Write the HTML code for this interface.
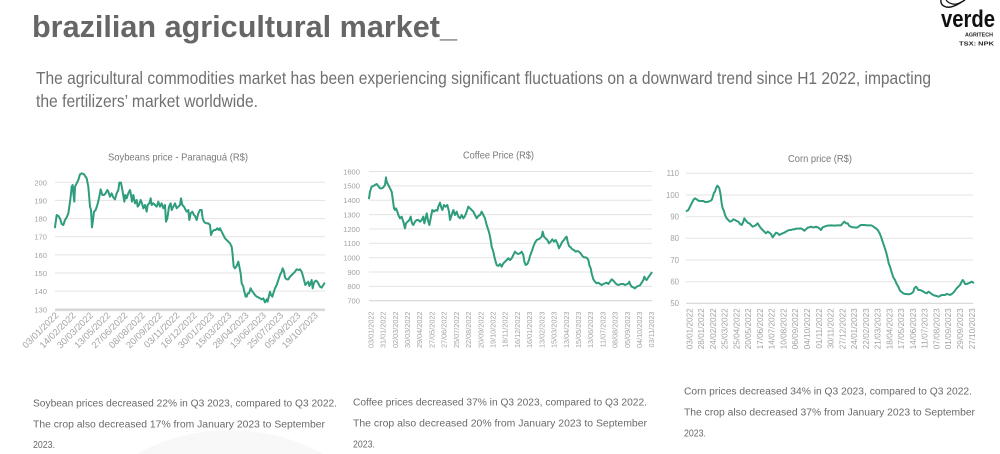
<!DOCTYPE html>
<html><head><meta charset="utf-8"><style>
html,body{margin:0;padding:0;background:#fff;width:1000px;height:454px;overflow:hidden}
svg{display:block}
text{font-family:"Liberation Sans",sans-serif}
.tk{fill:#a3a3a3;font-size:7.6px}
.g{stroke:#e3e3e3;stroke-width:1}
.ln{fill:none;stroke:#2f9d7d;stroke-width:6;stroke-linejoin:round;stroke-linecap:round}
.ct{fill:#7a7a7a;font-size:10.5px}
.bt{fill:#6a6a6a;font-size:10px}
</style></head><body>
<svg width="1000" height="454" viewBox="0 0 1000 454" xmlns="http://www.w3.org/2000/svg">
<rect width="1000" height="454" fill="#fff"/>
<path d="M136.3,454 A195,195 0 0 1 323.7,454 Z" fill="#f8f8f8"/>

<!-- Title -->
<text x="32" y="37" font-size="31" font-weight="bold" fill="#666" textLength="425" lengthAdjust="spacingAndGlyphs">brazilian agricultural market_</text>
<text x="36" y="84" font-size="17.5" fill="#707070" textLength="895" lengthAdjust="spacingAndGlyphs">The agricultural commodities market has been experiencing significant fluctuations on a downward trend since H1 2022, impacting</text>
<text x="36" y="107" font-size="17.5" fill="#707070" textLength="222" lengthAdjust="spacingAndGlyphs">the fertilizers’ market worldwide.</text>

<!-- Logo -->
<path d="M941,0 C940,6 947,9 954,6 C959,4 963,1 965,0" fill="none" stroke="#111" stroke-width="1.4"/>
<path d="M946,0 C949,4 956,6 961,2" fill="none" stroke="#111" stroke-width="1.2"/>
<text x="941" y="27" font-size="24" font-weight="bold" fill="#111" textLength="54" lengthAdjust="spacingAndGlyphs">verde</text>
<text x="965" y="36.5" font-size="5.5" font-weight="bold" fill="#222" textLength="28" lengthAdjust="spacingAndGlyphs">AGRITECH</text>
<text x="959" y="45.5" font-size="5.8" font-weight="bold" fill="#222" textLength="35" lengthAdjust="spacingAndGlyphs">TSX: NPK</text>

<!-- ============ Soybeans ============ -->
<text class="ct" x="108" y="160.5" textLength="140" lengthAdjust="spacingAndGlyphs">Soybeans price - Paranaguá (R$)</text>
<g class="g">
<line x1="55" y1="182.3" x2="325" y2="182.3"/>
<line x1="55" y1="200.4" x2="325" y2="200.4"/>
<line x1="55" y1="218.6" x2="325" y2="218.6"/>
<line x1="55" y1="236.7" x2="325" y2="236.7"/>
<line x1="55" y1="254.9" x2="325" y2="254.9"/>
<line x1="55" y1="273" x2="325" y2="273"/>
<line x1="55" y1="291.1" x2="325" y2="291.1"/>
</g>
<line x1="55" y1="309.8" x2="325" y2="309.8" stroke="#d8d8d8" stroke-width="2.6"/>
<g class="tk" text-anchor="end">
<text x="47" y="185.3">200</text><text x="47" y="203.4">190</text><text x="47" y="221.6">180</text>
<text x="47" y="239.7">170</text><text x="47" y="257.9">160</text><text x="47" y="276">150</text>
<text x="47" y="294.1">140</text><text x="47" y="312.6">130</text>
</g>
<g transform="translate(20 140) scale(0.33333)"><polyline class="ln" points="105,262 110,225 115,228 120,235 125,252 130,255 135,240 140,232 145,220 148,200 152,170 155,140 158,135 160,160 163,185 165,140 170,130 175,120 180,103 185,100 192,103 200,115 205,140 210,200 213,210 216,262 219,240 222,215 227,210 232,195 237,175 242,148 247,165 252,165 257,160 262,150 265,155 270,170 275,160 280,172 285,178 290,160 295,150 298,128 303,128 308,155 313,185 316,165 320,175 325,160 330,150 333,165 336,185 340,165 345,190 350,180 353,200 357,195 362,180 366,190 370,205 375,195 380,215 383,195 388,190 392,175 395,195 400,190 405,195 410,200 415,185 420,200 425,190 430,205 435,195 438,245 442,235 447,200 452,190 455,210 460,200 465,190 470,205 475,200 480,195 483,175 487,195 492,200 497,210 500,215 505,210 508,240 512,220 517,215 522,225 525,228 530,240 535,220 540,210 545,210 548,235 552,245 555,248 560,250 565,250 570,255 573,285 577,275 582,270 587,270 592,265 597,270 600,265 605,275 610,285 615,295 620,300 625,305 630,310 635,320 638,345 641,380 645,385 650,378 655,365 658,380 662,400 665,430 670,440 673,455 677,470 680,470 683,460 687,460 692,445 695,452 700,458 705,465 710,470 715,472 720,475 725,478 730,475 735,487 740,478 743,485 745,475 750,455 753,465 757,470 760,460 765,445 770,435 775,420 780,405 785,395 788,385 792,395 795,412 800,418 805,418 810,410 815,405 820,400 825,395 830,388 835,390 840,388 845,395 848,405 852,420 856,435 860,430 865,425 868,438 872,430 875,420 878,445 882,428 887,422 892,425 895,430 900,440 905,443 910,435 913,430"/></g>
<g class="tk" text-anchor="end" style="font-size:9.3px">
<text transform="translate(59 316) rotate(-45)">03/01/2022</text>
<text transform="translate(76.3 316) rotate(-45)">14/02/2022</text>
<text transform="translate(93.6 316) rotate(-45)">30/03/2022</text>
<text transform="translate(110.9 316) rotate(-45)">13/05/2022</text>
<text transform="translate(128.2 316) rotate(-45)">27/06/2022</text>
<text transform="translate(145.5 316) rotate(-45)">08/08/2022</text>
<text transform="translate(162.8 316) rotate(-45)">20/09/2022</text>
<text transform="translate(180.1 316) rotate(-45)">03/11/2022</text>
<text transform="translate(197.4 316) rotate(-45)">16/12/2022</text>
<text transform="translate(214.7 316) rotate(-45)">30/01/2023</text>
<text transform="translate(232 316) rotate(-45)">15/03/2023</text>
<text transform="translate(249.3 316) rotate(-45)">28/04/2023</text>
<text transform="translate(266.6 316) rotate(-45)">13/06/2023</text>
<text transform="translate(283.9 316) rotate(-45)">25/07/2023</text>
<text transform="translate(301.2 316) rotate(-45)">05/09/2023</text>
<text transform="translate(318.5 316) rotate(-45)">19/10/2023</text>
</g>

<!-- ============ Coffee ============ -->
<text class="ct" x="463" y="158.3" textLength="71" lengthAdjust="spacingAndGlyphs">Coffee Price (R$)</text>
<g class="g">
<line x1="369" y1="171.5" x2="652" y2="171.5"/>
<line x1="369" y1="185.9" x2="652" y2="185.9"/>
<line x1="369" y1="200.2" x2="652" y2="200.2"/>
<line x1="369" y1="214.6" x2="652" y2="214.6"/>
<line x1="369" y1="229" x2="652" y2="229"/>
<line x1="369" y1="243.3" x2="652" y2="243.3"/>
<line x1="369" y1="257.7" x2="652" y2="257.7"/>
<line x1="369" y1="272" x2="652" y2="272"/>
<line x1="369" y1="286.4" x2="652" y2="286.4"/>
</g>
<line x1="369" y1="300.7" x2="652" y2="300.7" stroke="#d6d6d6" stroke-width="1.2"/>
<g class="tk" text-anchor="end">
<text x="360" y="174.3">1600</text><text x="360" y="188.7">1500</text><text x="360" y="203">1400</text>
<text x="360" y="217.4">1300</text><text x="360" y="231.8">1200</text><text x="360" y="246.1">1100</text>
<text x="360" y="260.5">1000</text><text x="360" y="274.8">900</text><text x="360" y="289.2">800</text>
<text x="360" y="303.5">700</text>
</g>
<g transform="translate(340 140) scale(0.33333)"><polyline class="ln" points="87,175 90,155 95,140 100,138 105,135 110,132 115,138 120,145 125,145 130,142 135,135 138,112 140,125 145,135 150,145 155,155 158,175 162,205 165,210 168,205 172,215 175,225 180,235 185,230 190,245 195,265 198,250 203,245 208,240 212,230 216,250 220,255 225,245 230,240 235,240 240,245 245,240 250,230 253,250 257,235 260,220 265,245 268,255 272,235 277,210 282,215 287,210 292,212 295,200 300,188 303,200 307,210 312,195 317,200 322,195 327,215 330,240 335,225 340,210 345,225 350,215 355,230 360,235 365,225 370,235 375,228 380,215 385,200 390,205 395,210 400,215 405,225 410,235 415,228 420,225 425,215 430,225 435,235 440,255 445,270 448,280 452,300 455,320 460,335 463,350 467,365 470,375 475,378 480,372 485,380 490,370 495,365 500,360 505,355 510,360 515,355 520,345 525,335 530,340 535,342 540,340 545,335 550,345 553,365 557,375 562,372 567,360 570,348 575,335 580,320 585,308 590,300 595,298 600,295 605,290 608,275 612,290 617,295 622,300 627,310 632,305 637,298 642,305 647,300 652,310 657,325 662,315 667,305 672,300 677,292 680,290 683,305 687,318 692,322 697,328 702,330 707,335 712,333 717,335 722,340 727,348 732,352 737,352 742,355 745,360 748,375 752,385 755,400 760,418 765,425 770,430 775,428 780,432 785,435 790,432 795,430 800,428 805,432 810,425 815,418 820,422 825,428 830,433 835,435 840,433 845,432 850,432 855,435 860,433 865,430 868,425 870,432 875,440 880,442 885,445 890,440 895,438 900,436 905,428 910,420 913,410 917,418 920,420 925,412 930,405 935,398"/></g>
<g class="tk" text-anchor="end" style="font-size:7.3px">
<text transform="translate(373.4 311.5) rotate(-90)">03/01/2022</text>
<text transform="translate(385.6 311.5) rotate(-90)">31/01/2022</text>
<text transform="translate(397.8 311.5) rotate(-90)">02/03/2022</text>
<text transform="translate(410 311.5) rotate(-90)">30/03/2022</text>
<text transform="translate(422.2 311.5) rotate(-90)">29/04/2022</text>
<text transform="translate(434.5 311.5) rotate(-90)">27/05/2022</text>
<text transform="translate(446.7 311.5) rotate(-90)">27/06/2022</text>
<text transform="translate(458.9 311.5) rotate(-90)">25/07/2022</text>
<text transform="translate(471.1 311.5) rotate(-90)">22/08/2022</text>
<text transform="translate(483.3 311.5) rotate(-90)">20/09/2022</text>
<text transform="translate(495.5 311.5) rotate(-90)">19/10/2022</text>
<text transform="translate(507.7 311.5) rotate(-90)">18/11/2022</text>
<text transform="translate(519.9 311.5) rotate(-90)">16/12/2022</text>
<text transform="translate(532.1 311.5) rotate(-90)">16/01/2023</text>
<text transform="translate(544.3 311.5) rotate(-90)">13/02/2023</text>
<text transform="translate(556.6 311.5) rotate(-90)">15/03/2023</text>
<text transform="translate(568.8 311.5) rotate(-90)">13/04/2023</text>
<text transform="translate(581 311.5) rotate(-90)">15/05/2023</text>
<text transform="translate(593.2 311.5) rotate(-90)">13/06/2023</text>
<text transform="translate(605.4 311.5) rotate(-90)">11/07/2023</text>
<text transform="translate(617.6 311.5) rotate(-90)">08/08/2023</text>
<text transform="translate(629.8 311.5) rotate(-90)">05/09/2023</text>
<text transform="translate(642 311.5) rotate(-90)">04/10/2023</text>
<text transform="translate(654.2 311.5) rotate(-90)">03/11/2023</text>
</g>

<!-- ============ Corn ============ -->
<text class="ct" x="788" y="162" textLength="64" lengthAdjust="spacingAndGlyphs">Corn price (R$)</text>
<g class="g">
<line x1="686" y1="173.3" x2="973" y2="173.3"/>
<line x1="686" y1="195" x2="973" y2="195"/>
<line x1="686" y1="216.7" x2="973" y2="216.7"/>
<line x1="686" y1="238.3" x2="973" y2="238.3"/>
<line x1="686" y1="260" x2="973" y2="260"/>
<line x1="686" y1="281.7" x2="973" y2="281.7"/>
</g>
<line x1="686" y1="303.3" x2="973" y2="303.3" stroke="#d6d6d6" stroke-width="1.2"/>
<g class="tk" text-anchor="end" style="font-size:7.8px">
<text x="679" y="176.1">110</text><text x="679" y="197.8">100</text><text x="679" y="219.5">90</text>
<text x="679" y="241.1">80</text><text x="679" y="262.8">70</text><text x="679" y="284.5">60</text>
<text x="679" y="306.1">50</text>
</g>
<g transform="translate(660 140) scale(0.33333)"><polyline class="ln" points="80,213 85,210 90,200 95,190 100,180 105,175 110,178 115,182 120,183 130,183 135,186 140,186 145,185 150,183 155,180 158,172 162,158 165,155 168,145 172,137 175,140 178,145 182,165 185,190 188,205 192,213 195,225 200,235 205,240 210,245 215,243 220,238 225,240 230,243 235,245 240,252 245,255 250,245 253,235 258,242 263,248 268,250 273,255 278,260 283,258 288,255 293,250 298,258 303,265 308,270 313,275 318,280 323,275 328,278 333,282 338,292 343,285 348,278 353,280 358,285 363,282 368,280 373,278 378,275 383,272 388,270 393,270 398,268 403,268 408,266 413,266 418,266 423,265 428,268 433,272 438,268 443,263 448,262 453,260 458,262 463,262 468,260 473,262 478,265 483,270 488,262 493,260 498,258 503,257 513,256 523,257 533,256 543,256 548,250 553,245 558,250 563,250 568,258 573,260 578,262 583,262 588,263 593,262 598,258 603,255 613,255 623,256 633,256 638,258 643,262 648,265 653,270 658,278 663,290 668,305 673,320 678,335 683,355 686,370 690,380 693,390 696,400 700,412 705,420 710,432 715,440 720,452 725,456 730,460 735,462 740,462 745,463 750,462 755,460 760,455 763,445 768,440 772,445 775,450 780,450 785,452 790,455 795,458 800,460 805,455 810,458 815,462 820,465 825,467 830,468 835,470 840,468 845,465 850,465 855,465 860,462 865,463 870,465 875,462 880,458 885,452 890,445 895,440 900,435 905,425 908,420 912,425 915,432 920,432 925,430 930,428 935,425 940,428"/></g>
<g class="tk" text-anchor="end" style="font-size:8.2px">
<text transform="translate(692.3 308.3) rotate(-90)">03/01/2022</text>
<text transform="translate(704.1 308.3) rotate(-90)">28/01/2022</text>
<text transform="translate(715.8 308.3) rotate(-90)">24/02/2022</text>
<text transform="translate(727.6 308.3) rotate(-90)">25/03/2022</text>
<text transform="translate(739.4 308.3) rotate(-90)">25/04/2022</text>
<text transform="translate(751.2 308.3) rotate(-90)">20/05/2022</text>
<text transform="translate(762.9 308.3) rotate(-90)">17/06/2022</text>
<text transform="translate(774.7 308.3) rotate(-90)">14/07/2022</text>
<text transform="translate(786.5 308.3) rotate(-90)">10/08/2022</text>
<text transform="translate(798.2 308.3) rotate(-90)">06/09/2022</text>
<text transform="translate(810 308.3) rotate(-90)">04/10/2022</text>
<text transform="translate(821.8 308.3) rotate(-90)">01/11/2022</text>
<text transform="translate(833.5 308.3) rotate(-90)">30/11/2022</text>
<text transform="translate(845.3 308.3) rotate(-90)">27/12/2022</text>
<text transform="translate(857.1 308.3) rotate(-90)">24/01/2023</text>
<text transform="translate(868.9 308.3) rotate(-90)">22/02/2023</text>
<text transform="translate(880.6 308.3) rotate(-90)">21/03/2023</text>
<text transform="translate(892.4 308.3) rotate(-90)">18/04/2023</text>
<text transform="translate(904.2 308.3) rotate(-90)">17/05/2023</text>
<text transform="translate(915.9 308.3) rotate(-90)">14/06/2023</text>
<text transform="translate(927.7 308.3) rotate(-90)">11/07/2023</text>
<text transform="translate(939.5 308.3) rotate(-90)">07/08/2023</text>
<text transform="translate(951.2 308.3) rotate(-90)">01/09/2023</text>
<text transform="translate(963 308.3) rotate(-90)">29/09/2023</text>
<text transform="translate(974.8 308.3) rotate(-90)">27/10/2023</text>
</g>

<!-- Bottom texts -->
<g class="bt">
<text x="33" y="406.5" textLength="304" lengthAdjust="spacingAndGlyphs">Soybean prices decreased 22% in Q3 2023, compared to Q3 2022.</text>
<text x="33" y="427.5" textLength="292" lengthAdjust="spacingAndGlyphs">The crop also decreased 17% from January 2023 to September</text>
<text x="33" y="448" textLength="22" lengthAdjust="spacingAndGlyphs">2023.</text>

<text x="353" y="405.5" textLength="294" lengthAdjust="spacingAndGlyphs">Coffee prices decreased 37% in Q3 2023, compared to Q3 2022.</text>
<text x="353" y="426.5" textLength="294" lengthAdjust="spacingAndGlyphs">The crop also decreased 20% from January 2023 to September</text>
<text x="353" y="447.5" textLength="22" lengthAdjust="spacingAndGlyphs">2023.</text>

<text x="684" y="394.5" textLength="288" lengthAdjust="spacingAndGlyphs">Corn prices decreased 34% in Q3 2023, compared to Q3 2022.</text>
<text x="684" y="415.5" textLength="291" lengthAdjust="spacingAndGlyphs">The crop also decreased 37% from January 2023 to September</text>
<text x="684" y="436.5" textLength="22" lengthAdjust="spacingAndGlyphs">2023.</text>
</g>
</svg>
</body></html>
